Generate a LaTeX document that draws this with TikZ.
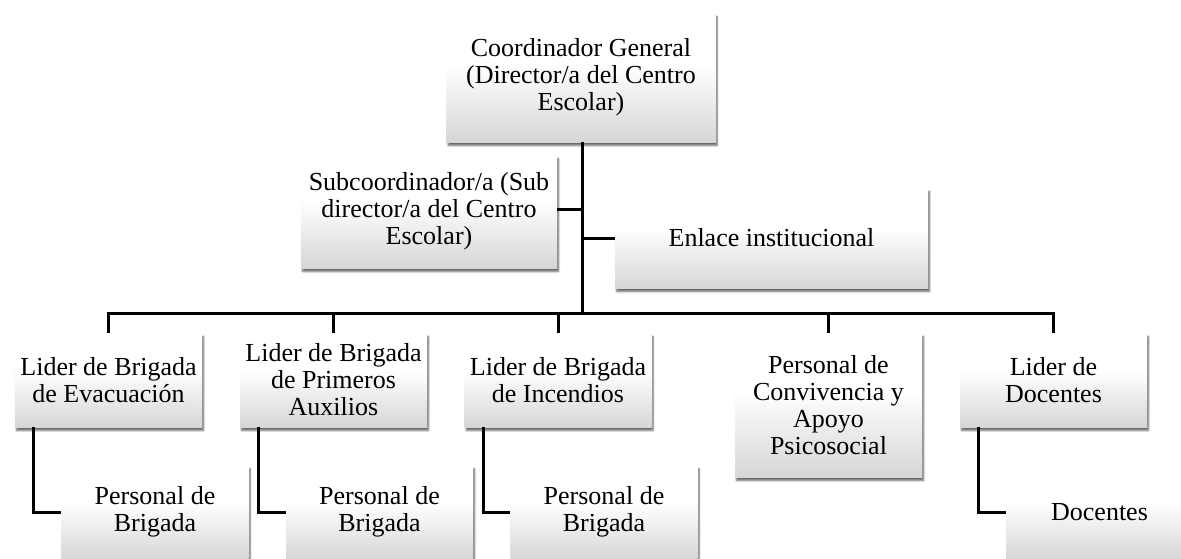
\documentclass[tikz,border=0pt]{standalone}
\usepackage{fontspec}
\setmainfont{Liberation Serif}
\usetikzlibrary{shadows.blur,calc}
\definecolor{boxbottom}{RGB}{214,214,214}
\pgfdeclareverticalshading{boxshade}{100bp}{color(0bp)=(boxbottom); color(25bp)=(boxbottom); color(55bp)=(white); color(75bp)=(white); color(100bp)=(white)}
\tikzset{
  orgbox/.style={rectangle, draw=none, align=center, inner sep=2pt,
    shading=boxshade,
    blur shadow={shadow xshift=1.5pt, shadow yshift=-3.5pt, shadow blur steps=6, shadow opacity=60},
    font=\fontsize{26}{27}\selectfont},
  link/.style={line width=3pt, black}
}
\begin{document}
\begin{tikzpicture}[x=1pt,y=-1pt]
\useasboundingbox (0,0) rectangle (1181,558);
\clip (0,0) rectangle (1181,558);
% level 0
\node[orgbox, minimum width=269pt, minimum height=129pt] (coord) at (581,77.5) {Coordinador General\\(Director/a del Centro\\Escolar)};
\node[orgbox, minimum width=256pt, minimum height=113pt] (sub) at (429,211.5) {Subcoordinador/a (Sub\\director/a del Centro\\Escolar)};
\node[orgbox, minimum width=313pt, minimum height=100pt] (enl) at (771.5,238) {Enlace institucional};
% level 1
\node[orgbox, minimum width=187pt, minimum height=94pt] (l1) at (108.5,380) {Lider de Brigada\\de Evacuación};
\node[orgbox, minimum width=187pt, minimum height=94pt] (l2) at (333.5,380) {Lider de Brigada\\de Primeros\\Auxilios};
\node[orgbox, minimum width=187pt, minimum height=94pt] (l3) at (558,380) {Lider de Brigada\\de Incendios};
\node[orgbox, minimum width=187pt, minimum height=144pt] (l4) at (828.5,405) {Personal de\\Convivencia y\\Apoyo\\Psicosocial};
\node[orgbox, minimum width=187pt, minimum height=94pt] (l5) at (1053.5,380) {Lider de\\Docentes};
% level 2
\node[orgbox, minimum width=187pt, minimum height=94pt] (p1) at (155,512) {Personal de\\Brigada};
\node[orgbox, minimum width=187pt, minimum height=94pt] (p2) at (379.5,512) {Personal de\\Brigada};
\node[orgbox, minimum width=187pt, minimum height=94pt] (p3) at (604,512) {Personal de\\Brigada};
\node[orgbox, minimum width=187pt, minimum height=94pt] (d) at (1099.5,512) {Docentes};
% connectors
\coordinate (bus) at (582,313);
\coordinate (top) at (582,142);
\draw[link] (top) -- (bus);
\draw[link] ([yshift=2pt]sub.east) -- ([yshift=2pt]sub.east -| top);
\draw[link] (enl.west) -- (enl.west -| top);
\draw[link] (l1.north) -- (l1.north |- bus) -- (l5.north |- bus) -- (l5.north);
\draw[link] (l2.north) -- (l2.north |- bus);
\draw[link] (l3.north) -- (l3.north |- bus);
\draw[link] (l4.north) -- (l4.north |- bus);
\draw[link] ([xshift=19pt]l1.south west) |- (p1.west);
\draw[link] ([xshift=19pt]l2.south west) |- (p2.west);
\draw[link] ([xshift=19pt]l3.south west) |- (p3.west);
\draw[link] ([xshift=19pt]l5.south west) |- (d.west);
\end{tikzpicture}
\end{document}
